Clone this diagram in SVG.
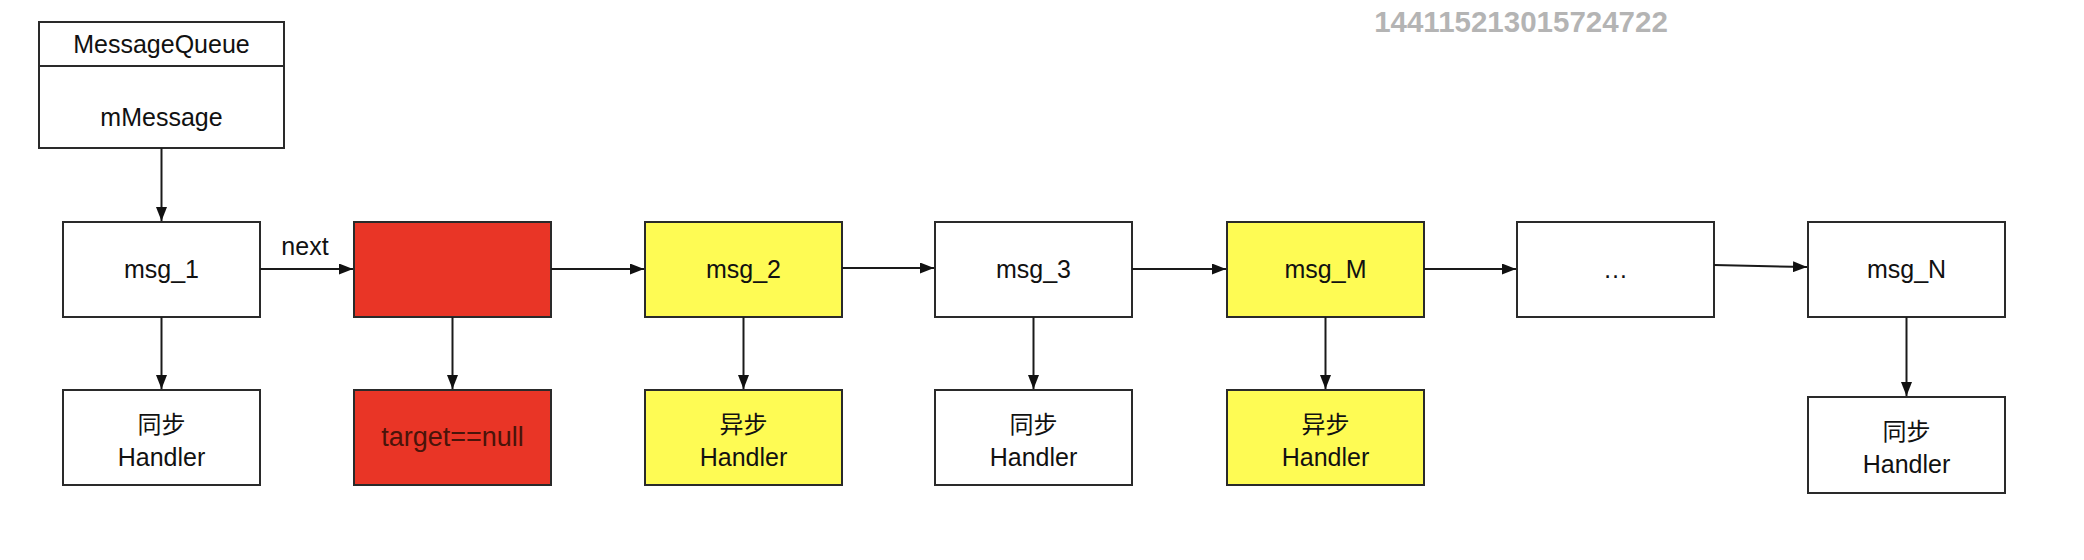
<svg xmlns="http://www.w3.org/2000/svg" width="2084" height="560" viewBox="0 0 2084 560">
<style>
  .box { stroke: #2a2a2a; stroke-width: 2; }
  .white { fill: #ffffff; }
  .red { fill: #e93526; }
  .yellow { fill: #fefb54; }
  .t { font-family: "Liberation Sans", Arial, "Noto Sans CJK SC", sans-serif; font-size: 25px; fill: #111111; text-anchor: middle; }
  .cn { font-family: "Noto Sans CJK SC", "Liberation Sans", sans-serif; font-size: 24px; fill: #111111; text-anchor: middle; }
  .conn { stroke: #1a1a1a; stroke-width: 2; fill: none; marker-end: url(#arr); }
</style>
<defs>
  <marker id="arr" viewBox="0 0 14 11" refX="14" refY="5.5" markerWidth="14" markerHeight="11" markerUnits="userSpaceOnUse" orient="auto">
    <path d="M0,0 L14,5.5 L0,11 Z" fill="#111111"/>
  </marker>
</defs>
<rect width="2084" height="560" fill="#ffffff"/>

<text x="1521" y="32" font-family="Liberation Sans, Arial, sans-serif" font-size="29.5" font-weight="bold" fill="#b4b4b4" text-anchor="middle">144115213015724722</text>

<g id="messagequeue">
  <rect class="box white" x="39" y="22" width="245" height="126"/>
  <line x1="39" y1="66" x2="284" y2="66" stroke="#2a2a2a" stroke-width="2"/>
  <text class="t" x="161.5" y="53">MessageQueue</text>
  <text class="t" x="161.5" y="126">mMessage</text>
</g>

<g id="msg_1">
  <rect class="box white" x="63" y="222" width="197" height="95"/>
  <text class="t" x="161.5" y="278">msg_1</text>
</g>
<g id="barrier">
  <rect class="box red" x="354" y="222" width="197" height="95"/>
</g>
<g id="msg_2">
  <rect class="box yellow" x="645" y="222" width="197" height="95"/>
  <text class="t" x="743.5" y="278">msg_2</text>
</g>
<g id="msg_3">
  <rect class="box white" x="935" y="222" width="197" height="95"/>
  <text class="t" x="1033.5" y="278">msg_3</text>
</g>
<g id="msg_M">
  <rect class="box yellow" x="1227" y="222" width="197" height="95"/>
  <text class="t" x="1325.5" y="278">msg_M</text>
</g>
<g id="ellipsis">
  <rect class="box white" x="1517" y="222" width="197" height="95"/>
  <text class="t" x="1615.5" y="278">…</text>
</g>
<g id="msg_N">
  <rect class="box white" x="1808" y="222" width="197" height="95"/>
  <text class="t" x="1906.5" y="278">msg_N</text>
</g>

<g id="handler_1">
  <rect class="box white" x="63" y="390" width="197" height="95"/>
  <text class="cn" x="161.5" y="433">同步</text>
  <text class="t" x="161.5" y="466">Handler</text>
</g>
<g id="target_null">
  <rect class="box red" x="354" y="390" width="197" height="95"/>
  <text class="t" x="452.5" y="446" style="font-size:27px;fill:#4a140a">target==null</text>
</g>
<g id="handler_2">
  <rect class="box yellow" x="645" y="390" width="197" height="95"/>
  <text class="cn" x="743.5" y="433">异步</text>
  <text class="t" x="743.5" y="466">Handler</text>
</g>
<g id="handler_3">
  <rect class="box white" x="935" y="390" width="197" height="95"/>
  <text class="cn" x="1033.5" y="433">同步</text>
  <text class="t" x="1033.5" y="466">Handler</text>
</g>
<g id="handler_M">
  <rect class="box yellow" x="1227" y="390" width="197" height="95"/>
  <text class="cn" x="1325.5" y="433">异步</text>
  <text class="t" x="1325.5" y="466">Handler</text>
</g>
<g id="handler_N">
  <rect class="box white" x="1808" y="397" width="197" height="96"/>
  <text class="cn" x="1906.5" y="440">同步</text>
  <text class="t" x="1906.5" y="473">Handler</text>
</g>

<g id="connectors">
  <line class="conn" x1="161.5" y1="148" x2="161.5" y2="221"/>
  <line class="conn" x1="260" y1="269" x2="353" y2="269"/>
  <text class="t" x="305" y="255">next</text>
  <line class="conn" x1="551" y1="269" x2="644" y2="269"/>
  <line class="conn" x1="842" y1="268" x2="934" y2="268"/>
  <line class="conn" x1="1132" y1="269" x2="1226" y2="269"/>
  <line class="conn" x1="1424" y1="269" x2="1516" y2="269"/>
  <line class="conn" x1="1714" y1="265" x2="1807" y2="267"/>
  <line class="conn" x1="161.5" y1="317" x2="161.5" y2="389"/>
  <line class="conn" x1="452.5" y1="317" x2="452.5" y2="389"/>
  <line class="conn" x1="743.5" y1="317" x2="743.5" y2="389"/>
  <line class="conn" x1="1033.5" y1="317" x2="1033.5" y2="389"/>
  <line class="conn" x1="1325.5" y1="317" x2="1325.5" y2="389"/>
  <line class="conn" x1="1906.5" y1="317" x2="1906.5" y2="396"/>
</g>
</svg>
